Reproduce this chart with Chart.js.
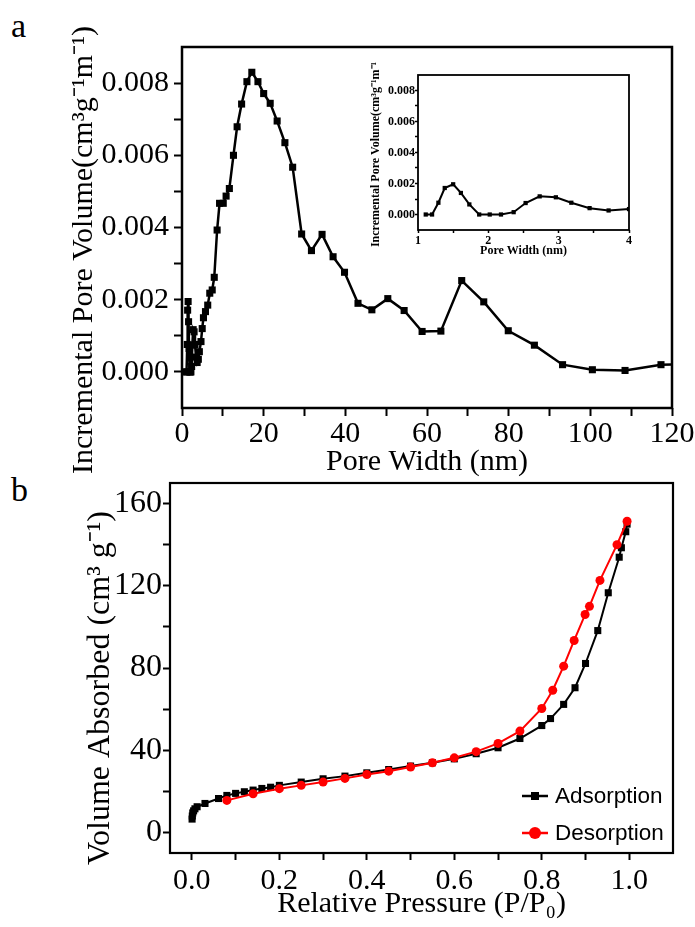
<!DOCTYPE html>
<html>
<head>
<meta charset="utf-8">
<script src="https://cdn.jsdelivr.net/npm/chart.js@4.4.1/dist/chart.umd.min.js"></script>
<style>
  body { margin: 0; background: #fff; width: 695px; height: 927px; position: relative; overflow: hidden; }
  canvas { position: absolute; }
  .lbl { position: absolute; font-family: 'Liberation Serif', serif; font-size: 34px; line-height: 38px; color: #000; }
</style>
</head>
<body>
<div class="lbl" style="left:11px;top:7px">a</div>
<div class="lbl" style="left:11px;top:471px">b</div>
<canvas id="chartA" width="695" height="482" style="left:0;top:0"></canvas>
<canvas id="chartB" width="695" height="467" style="left:0;top:460px"></canvas>
<canvas id="inset" width="285" height="200" style="left:355px;top:62px"></canvas>
<script>
// pore size distribution (nm, cm3 g-1 nm-1)
const poreX = [1.11, 1.20, 1.29, 1.38, 1.50, 1.61, 1.73, 1.87, 2.02, 2.18, 2.36, 2.53, 2.73, 2.96, 3.18, 3.44, 3.71, 4.00,
  4.25, 4.65, 4.95, 5.25, 5.75, 6.3, 6.8, 7.4, 7.9, 8.6, 9.2, 10.1, 10.8, 11.6, 12.6, 13.5, 14.6, 15.9, 17.1, 18.6, 20.0,
  21.6, 23.3, 25.2, 27.1, 29.3, 31.7, 34.3, 37.0, 39.8, 43.1, 46.5, 50.4, 54.4, 58.8, 63.4, 68.5, 73.9, 79.9, 86.3,
  93.2, 100.5, 108.5, 117.3, 124];
const poreY = [0, 0, 0.00076, 0.00171, 0.00195, 0.00139, 0.00065, 0, 0, 0, 0.00015, 0.00074, 0.00117, 0.00111, 0.00076, 0.00041, 0.00026, 0.00035,
  0.00056, 0.00084, 0.0012, 0.0015, 0.00167, 0.00185, 0.00218, 0.00227, 0.00262, 0.00393, 0.00467, 0.00467, 0.00487, 0.00508, 0.0060, 0.00679, 0.00742, 0.00804, 0.0083, 0.00804, 0.00771,
  0.00744, 0.00695, 0.00635, 0.00567, 0.00382, 0.00336, 0.00381, 0.00319, 0.00276, 0.0019, 0.00172, 0.00203, 0.0017, 0.00112, 0.00113, 0.00253, 0.00194, 0.00114, 0.00074,
  0.0002, 0.00006, 0.00004, 0.0002, 0.00022];

// inset: 1-4 nm
const insetX = [1.11, 1.20, 1.29, 1.38, 1.50, 1.61, 1.73, 1.87, 2.02, 2.18, 2.36, 2.53, 2.73, 2.96, 3.18, 3.44, 3.71, 4.00];
const insetY = [0, 0, 0.00076, 0.00171, 0.00195, 0.00139, 0.00065, 0, 0, 0, 0.00015, 0.00074, 0.00117, 0.00111, 0.00076, 0.00041, 0.00026, 0.00035];

// N2 isotherm
const adsX = [0.0005, 0.001, 0.002, 0.004, 0.007, 0.012, 0.03, 0.061, 0.08, 0.10, 0.12, 0.14, 0.16, 0.18, 0.20, 0.25, 0.30, 0.35, 0.40,
  0.45, 0.50, 0.55, 0.60, 0.65, 0.70, 0.75, 0.80, 0.82, 0.85, 0.876, 0.90, 0.928, 0.952, 0.977, 0.982, 0.992, 0.995];
const adsY = [6.5, 8, 9.5, 10.5, 11.5, 12.5, 14.1, 16.5, 18, 19, 19.8, 20.6, 21.4, 22, 22.9, 24.5, 26.1, 27.4, 29,
  30.6, 32.3, 33.9, 35.8, 38.3, 41.2, 45.7, 52, 55.4, 62.3, 70.4, 82.2, 98.2, 116.6, 133.9, 138.5, 146.3, 150];
const desX = [0.995, 0.972, 0.933, 0.909, 0.899, 0.874, 0.85, 0.825, 0.80, 0.75, 0.70, 0.65, 0.60, 0.55, 0.50, 0.45, 0.40, 0.35, 0.30, 0.25, 0.20, 0.14, 0.08];
const desY = [151.4, 140, 122.6, 110, 106, 93.4, 80.9, 69.2, 60.3, 49.3, 43.3, 39.3, 36.3, 33.9, 31.8, 29.8, 28.2, 26.3, 24.5, 22.9, 21.3, 18.8, 15.6];

// ticks
const aXTicks = [0, 10, 20, 30, 40, 50, 60, 70, 80, 90, 100, 110, 120];
const aXLabels = [0, 20, 40, 60, 80, 100, 120];
const aYTicks = [0, 0.001, 0.002, 0.003, 0.004, 0.005, 0.006, 0.007, 0.008];
const aYLabels = [0, 0.002, 0.004, 0.006, 0.008];
const inXTicks = [1, 1.5, 2, 2.5, 3, 3.5, 4];
const inXLabels = [1, 2, 3, 4];
const bXTicks = [0, 0.1, 0.2, 0.3, 0.4, 0.5, 0.6, 0.7, 0.8, 0.9, 1.0];
const bXLabels = [0, 0.2, 0.4, 0.6, 0.8, 1.0];
const bYTicks = [0, 20, 40, 60, 80, 100, 120, 140, 160];
const bYLabels = [0, 40, 80, 120, 160];

const SERIF = "'Liberation Serif', 'Times New Roman', serif";
const NB = '\u00a0';
const has = (arr, v) => arr.some(l => Math.abs(l - v) < 1e-9);
const pts = (xs, ys) => xs.map((x, i) => ({ x: x, y: ys[i] }));

const framePlugin = {
  id: 'frame',
  afterDraw(chart, args, opts) {
    const { ctx, chartArea: a } = chart;
    ctx.save();
    ctx.strokeStyle = '#000';
    ctx.lineWidth = opts.width || 2;
    ctx.strokeRect(a.left, a.top, a.right - a.left, a.bottom - a.top);
    ctx.restore();
  }
};

// legend drawn inside panel b, bottom right
const legendPlugin = {
  id: 'isoLegend',
  afterDraw(chart) {
    const ctx = chart.ctx;
    const rows = [336, 373];
    chart.data.datasets.slice().sort((p, q) => p.legendRow - q.legendRow).forEach((ds, i) => {
      const y = rows[i];
      ctx.save();
      ctx.strokeStyle = ds.borderColor;
      ctx.fillStyle = ds.backgroundColor;
      ctx.lineWidth = 2.5;
      ctx.beginPath(); ctx.moveTo(522, y); ctx.lineTo(548, y); ctx.stroke();
      if (ds.pointStyle === 'rect') ctx.fillRect(531, y - 4, 8, 8);
      else { ctx.beginPath(); ctx.arc(535, y, 6, 0, Math.PI * 2); ctx.fill(); }
      ctx.fillStyle = '#000';
      ctx.font = "22.5px 'Liberation Sans', Arial, sans-serif";
      ctx.textBaseline = 'middle';
      ctx.fillText(ds.label, 555, y + 1);
      ctx.restore();
    });
  }
};

function axis(o) {
  return {
    type: 'linear', min: o.min, max: o.max,
    afterBuildTicks: s => { s.ticks = o.ticks.map(v => ({ value: v })); },
    afterFit: s => { if (o.height) s.height = o.height; if (o.width) s.width = o.width; },
    grid: { drawOnChartArea: false, tickLength: o.tl, tickWidth: o.tw, tickColor: '#000' },
    border: { display: false },
    ticks: {
      autoSkip: false, maxRotation: 0, padding: o.pad, color: '#000',
      font: { family: SERIF, size: o.fs, weight: o.bold ? 'bold' : 'normal' },
      callback: v => has(o.labels, v) ? o.fmt(v) : ''
    },
    title: {
      display: true, text: o.title, color: '#000',
      font: { family: SERIF, size: o.ts, weight: o.bold ? 'bold' : 'normal' },
      padding: o.tpad
    }
  };
}

const common = {
  responsive: false, animation: false, devicePixelRatio: 1,
  plugins: { legend: { display: false }, tooltip: { enabled: false } }
};

new Chart(document.getElementById('chartA'), {
  type: 'line',
  data: { datasets: [{
    data: pts(poreX, poreY), borderColor: '#000', backgroundColor: '#000', borderWidth: 2.5,
    pointStyle: 'rect', pointRadius: 5, pointBorderWidth: 0, tension: 0
  }] },
  options: Object.assign({}, common, {
    layout: { padding: { left: 0, top: 47, right: 23, bottom: 0 } },
    plugins: Object.assign({}, common.plugins, { frame: { width: 2.5 } }),
    scales: {
      x: axis({ min: 0, max: 120, ticks: aXTicks, labels: aXLabels, fmt: v => String(v), height: 74,
        tl: 8, tw: 2, pad: 0, fs: 30, ts: 30, title: 'Pore Width (nm)', tpad: { top: 0, bottom: 2 } }),
      y: axis({ min: -0.001, max: 0.009, ticks: aYTicks, labels: aYLabels, fmt: v => v.toFixed(3), width: 182,
        tl: 8, tw: 2, pad: 5, fs: 30, ts: 30, title: 'Incremental Pore Volume(cm³g⁻¹m⁻¹)' + NB.repeat(6), tpad: { top: 66, bottom: 0 } })
    }
  }),
  plugins: [framePlugin]
});

new Chart(document.getElementById('inset'), {
  type: 'line',
  data: { datasets: [{
    data: pts(insetX, insetY), borderColor: '#000', backgroundColor: '#000', borderWidth: 2,
    pointStyle: 'rect', pointRadius: 3, pointBorderWidth: 0, tension: 0
  }] },
  options: Object.assign({}, common, {
    layout: { padding: { left: 0, top: 13, right: 11, bottom: 0 } },
    plugins: Object.assign({}, common.plugins, { frame: { width: 1.8 } }),
    scales: {
      x: axis({ min: 1, max: 4, ticks: inXTicks, labels: inXLabels, fmt: v => String(v), height: 32,
        tl: 3, tw: 1.5, pad: 1, fs: 12, ts: 12, bold: true, title: 'Pore Width (nm)', tpad: { top: 0, bottom: 4 } }),
      y: axis({ min: -0.001, max: 0.009, ticks: aYTicks, labels: aYLabels, fmt: v => v.toFixed(3), width: 63,
        tl: 3, tw: 1.5, pad: 0, fs: 12, ts: 12, bold: true, title: 'Incremental Pore Volume(cm³g⁻¹m⁻¹)', tpad: { top: 14, bottom: 0 } })
    }
  }),
  plugins: [framePlugin]
});

new Chart(document.getElementById('chartB'), {
  type: 'line',
  data: { datasets: [
    { label: 'Adsorption', legendRow: 0, order: 1, data: pts(adsX, adsY), borderColor: '#000', backgroundColor: '#000',
      borderWidth: 2, pointStyle: 'rect', pointRadius: 5, pointBorderWidth: 0, tension: 0 },
    { label: 'Desorption', legendRow: 1, order: 0, data: pts(desX, desY), borderColor: '#ff0000', backgroundColor: '#ff0000',
      borderWidth: 2, pointStyle: 'circle', pointRadius: 4.5, pointBorderWidth: 0, tension: 0 }
  ] },
  options: Object.assign({}, common, {
    layout: { padding: { left: 0, top: 23, right: 22, bottom: 0 } },
    plugins: Object.assign({}, common.plugins, { frame: { width: 2.2 } }),
    scales: {
      x: axis({ min: -0.05, max: 1.1, ticks: bXTicks, labels: bXLabels, fmt: v => v.toFixed(1), height: 74,
        tl: 7, tw: 2, pad: 3, fs: 30, ts: 30, title: 'Relative Pressure (P/P₀)', tpad: { top: 0, bottom: 5 } }),
      y: axis({ min: -10, max: 170, ticks: bYTicks, labels: bYLabels, fmt: v => String(v), width: 170,
        tl: 7, tw: 2, pad: 1, fs: 32, ts: 32, title: 'Volume Absorbed (cm³ g⁻¹)' + NB.repeat(5), tpad: { top: 81, bottom: 0 } })
    }
  }),
  plugins: [framePlugin, legendPlugin]
});
</script>
</body>
</html>
